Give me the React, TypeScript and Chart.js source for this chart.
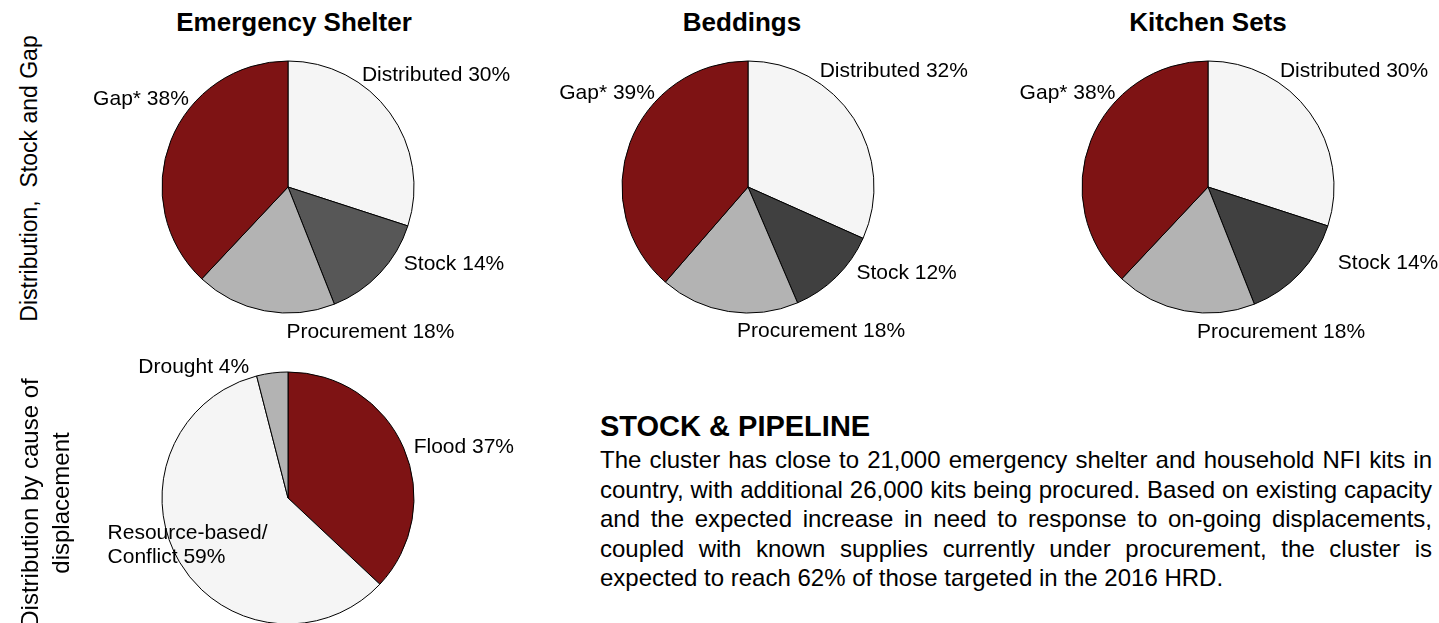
import React, { useEffect, useRef } from "react";
import { Chart, registerables } from "chart.js";

Chart.register(...registerables);

// ---------- data ----------
const pieTitles = ["Emergency Shelter", "Beddings", "Kitchen Sets"];
const supplyCategories = ["Distributed", "Stock", "Procurement", "Gap*"];
const emergencyShelterValues = [30, 14, 18, 38];
const beddingsValues = [32, 12, 18, 39];
const kitchenSetsValues = [30, 14, 18, 38];
const causeCategories = ["Flood", "Resource-based/\nConflict", "Drought"];
const causeValues = [37, 59, 4];
const axisTitleTop = "Distribution,  Stock and Gap";
const axisTitleBottom = ["Distribution by cause of", "displacement"];
const textHeading = "STOCK & PIPELINE";
const textLines = [
  "The cluster has close to 21,000 emergency shelter and household NFI kits in",
  "country, with additional 26,000 kits being procured.  Based on existing capacity",
  "and the expected increase in need to response to on-going displacements,",
  "coupled with known supplies currently under procurement, the cluster is",
  "expected to reach 62% of those targeted in the 2016 HRD.",
];

// ---------- styles ----------
const FONT = '"Liberation Sans", Arial, Helvetica, sans-serif';
const RED = "#7e1314";
const LIGHT = "#f5f5f5";
const PROC = "#b3b3b3";

const outsideLabels = {
  id: "outsideLabels",
  afterDatasetsDraw(chart: any, _args: any, opts: any) {
    const ctx = chart.ctx;
    const meta = chart.getDatasetMeta(0);
    const labels = chart.data.labels;
    const data = chart.data.datasets[0].data;
    ctx.save();
    ctx.font = opts.font;
    ctx.fillStyle = opts.color;
    ctx.textBaseline = "alphabetic";
    meta.data.forEach((arc: any, i: number) => {
      const p = arc.getProps(["x", "y", "startAngle", "endAngle", "outerRadius"], true);
      const mid = (p.startAngle + p.endAngle) / 2;
      const ax = p.x + Math.cos(mid) * p.outerRadius;
      const ay = p.y + Math.sin(mid) * p.outerRadius;
      const [dx, dy] = opts.offsets[i];
      ctx.textAlign = opts.aligns[i];
      const lines = `${labels[i]} ${data[i]}%`.split("\n");
      lines.forEach((ln: string, k: number) => {
        ctx.fillText(ln, ax + dx, ay + dy + k * opts.lineHeight);
      });
    });
    ctx.restore();
  },
};

type PieProps = {
  labels: string[];
  values: number[];
  colors: string[];
  cx: number;
  cy: number;
  offsets: number[][];
  aligns: string[];
};

const W = 460;
const H = 360;

function Pie({ labels, values, colors, cx, cy, offsets, aligns }: PieProps) {
  const ref = useRef<HTMLCanvasElement>(null);
  useEffect(() => {
    if (!ref.current) return;
    const chart = new Chart(ref.current, {
      type: "pie",
      data: {
        labels,
        datasets: [
          {
            data: values,
            backgroundColor: colors,
            borderColor: "#000",
            borderWidth: 1,
            radius: 126,
          } as any,
        ],
      },
      options: {
        responsive: false,
        animation: false,
        devicePixelRatio: 1,
        events: [],
        layout: { padding: 0 },
        plugins: {
          legend: { display: false },
          tooltip: { enabled: false },
          outsideLabels: {
            font: `21px ${FONT}`,
            color: "#000",
            offsets,
            aligns,
            lineHeight: 24,
          },
        } as any,
      },
      plugins: [outsideLabels as any],
    });
    return () => chart.destroy();
  }, []);
  return (
    <canvas
      ref={ref}
      width={W}
      height={H}
      style={{ position: "absolute", left: cx - W / 2, top: cy - H / 2, width: W, height: H }}
    />
  );
}

const supplyColorsES = [LIGHT, "#575757", PROC, RED];
const supplyColorsDark = [LIGHT, "#404040", PROC, RED];

export default function App() {
  const titleCenters = [294, 742, 1208];
  return (
    <div
      style={{
        position: "absolute",
        left: 0,
        top: 0,
        width: 1439,
        height: 623,
        overflow: "hidden",
        background: "#fff",
        fontFamily: FONT,
        color: "#000",
      }}
    >
      {pieTitles.map((t, i) => (
        <div
          key={t}
          style={{
            position: "absolute",
            left: titleCenters[i] - 200,
            top: 9,
            width: 400,
            textAlign: "center",
            fontSize: 26,
            lineHeight: "26px",
            fontWeight: "bold",
          }}
        >
          {t}
        </div>
      ))}

      <Pie
        labels={supplyCategories}
        values={emergencyShelterValues}
        colors={supplyColorsES}
        cx={288}
        cy={187}
        offsets={[[-28, -32], [24, -3], [22, 27], [18, -36]]}
        aligns={["left", "left", "left", "right"]}
      />
      <Pie
        labels={supplyCategories}
        values={beddingsValues}
        colors={supplyColorsDark}
        cx={748}
        cy={187}
        offsets={[[-34, -41], [20, 2], [8.5, 26], [25, -44]]}
        aligns={["left", "left", "left", "right"]}
      />
      <Pie
        labels={supplyCategories}
        values={kitchenSetsValues}
        colors={supplyColorsDark}
        cx={1208}
        cy={187}
        offsets={[[-30, -35.5], [38, -4], [12.6, 27], [24.5, -42]]}
        aligns={["left", "left", "left", "right"]}
      />
      <Pie
        labels={causeCategories}
        values={causeValues}
        colors={[RED, LIGHT, PROC]}
        cx={288}
        cy={498}
        offsets={[[10, 5], [-72, -23], [-23, 0]]}
        aligns={["left", "left", "right"]}
      />

      {/* rotated axis titles */}
      <div
        style={{
          position: "absolute",
          left: 29,
          top: 178.5,
          width: 400,
          height: 23,
          marginLeft: -200,
          marginTop: -11.5,
          transform: "rotate(-90deg)",
          textAlign: "center",
          fontSize: 23,
          lineHeight: "23px",
          whiteSpace: "pre",
        }}
      >
        {axisTitleTop}
      </div>
      <div
        style={{
          position: "absolute",
          left: 45,
          top: 503,
          width: 400,
          height: 62,
          marginLeft: -200,
          marginTop: -31,
          transform: "rotate(-90deg)",
          textAlign: "center",
          fontSize: 24,
          lineHeight: "31px",
        }}
      >
        {axisTitleBottom.map((l) => (
          <div key={l}>{l}</div>
        ))}
      </div>

      {/* text block */}
      <div
        style={{
          position: "absolute",
          left: 600,
          top: 411.5,
          fontSize: 29,
          lineHeight: "29px",
          fontWeight: "bold",
          whiteSpace: "nowrap",
        }}
      >
        {textHeading}
      </div>
      <div style={{ position: "absolute", left: 600, top: 445.3, width: 832, fontSize: 24, lineHeight: "29.4px" }}>
        {textLines.map((l, i) => (
          <div
            key={i}
            style={{
              textAlign: i < textLines.length - 1 ? "justify" : "left",
              textAlignLast: i < textLines.length - 1 ? "justify" : "left",
              whiteSpace: "nowrap",
            } as any}
          >
            {l}
          </div>
        ))}
      </div>
    </div>
  );
}
